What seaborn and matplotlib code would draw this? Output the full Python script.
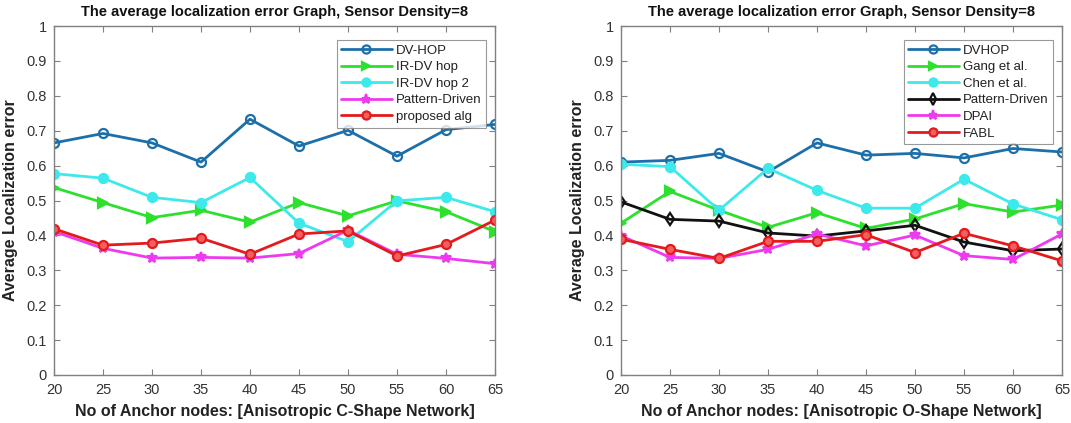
import matplotlib
matplotlib.use("Agg")
import matplotlib.pyplot as plt
import seaborn as sns
import pandas as pd

anchors = [20, 25, 30, 35, 40, 45, 50, 55, 60, 65]

# Left chart: Anisotropic C-Shape Network
c_dvhop = [0.665, 0.692, 0.665, 0.610, 0.733, 0.656, 0.701, 0.627, 0.703, 0.718]
c_irdv = [0.537, 0.494, 0.451, 0.472, 0.438, 0.494, 0.456, 0.499, 0.468, 0.411]
c_irdv2 = [0.577, 0.564, 0.509, 0.494, 0.566, 0.435, 0.382, 0.499, 0.509, 0.468]
c_pattern = [0.411, 0.363, 0.335, 0.337, 0.335, 0.348, 0.415, 0.346, 0.334, 0.319]
c_proposed = [0.419, 0.372, 0.378, 0.392, 0.346, 0.404, 0.413, 0.341, 0.374, 0.444]

# Right chart: Anisotropic O-Shape Network
o_dvhop = [0.610, 0.615, 0.635, 0.582, 0.665, 0.630, 0.635, 0.622, 0.649, 0.639]
o_gang = [0.435, 0.526, 0.472, 0.423, 0.465, 0.420, 0.447, 0.491, 0.467, 0.487]
o_chen = [0.604, 0.597, 0.472, 0.592, 0.529, 0.478, 0.478, 0.561, 0.490, 0.445]
o_pattern = [0.496, 0.446, 0.441, 0.407, 0.398, 0.413, 0.429, 0.381, 0.356, 0.361]
o_dpai = [0.399, 0.337, 0.334, 0.360, 0.404, 0.370, 0.401, 0.342, 0.331, 0.404]
o_fabl = [0.389, 0.360, 0.334, 0.383, 0.383, 0.402, 0.351, 0.406, 0.370, 0.327]

title = "The average localization error Graph, Sensor Density=8"
ylabel = "Average Localization error"
xlabel_left = "No of Anchor nodes: [Anisotropic C-Shape Network]"
xlabel_right = "No of Anchor nodes: [Anisotropic O-Shape Network]"
yticks = [0, 0.1, 0.2, 0.3, 0.4, 0.5, 0.6, 0.7, 0.8, 0.9, 1]
ytick_labels = ["0", "0.1", "0.2", "0.3", "0.4", "0.5", "0.6", "0.7", "0.8", "0.9", "1"]

BLUE = "#1d6fa9"
GREEN = "#2ee02e"
CYAN = "#3de9ea"
MAGENTA = "#ee3aee"
RED = "#e41a1c"
BLACK = "#111111"

sns.set_theme(style="white")
plt.rcParams["font.family"] = ["Liberation Sans", "DejaVu Sans"]

fig = plt.figure(figsize=(10.71, 4.23), dpi=100)
ax1 = fig.add_axes([54 / 1071, 1 - 375 / 423, (495 - 54) / 1071, (375 - 26) / 423])
ax2 = fig.add_axes([621 / 1071, 1 - 375 / 423, (1062 - 621) / 1071, (375 - 26) / 423])

left_series = [
    ("DV-HOP", c_dvhop, BLUE, "o", "none"),
    ("IR-DV hop", c_irdv, GREEN, ">", GREEN),
    ("IR-DV hop 2", c_irdv2, CYAN, "o", CYAN),
    ("Pattern-Driven", c_pattern, MAGENTA, "*", MAGENTA),
    ("proposed alg", c_proposed, RED, "o", "#f06060"),
]
right_series = [
    ("DVHOP", o_dvhop, BLUE, "o", "none"),
    ("Gang et al.", o_gang, GREEN, ">", GREEN),
    ("Chen et al.", o_chen, CYAN, "o", CYAN),
    ("Pattern-Driven", o_pattern, BLACK, "d", "none"),
    ("DPAI", o_dpai, MAGENTA, "*", MAGENTA),
    ("FABL", o_fabl, RED, "o", "#f06060"),
]


def draw(ax, series, xlabel):
    for name, vals, color, marker, mfc in series:
        df = pd.DataFrame({"x": anchors, "y": vals})
        sns.lineplot(data=df, x="x", y="y", ax=ax, color=color, marker=marker,
                     markersize=6.5 if marker != "*" else 7.5, linewidth=2,
                     markerfacecolor=mfc, markeredgecolor=color,
                     markeredgewidth=1.6, label=name)
    ax.set_xlim(20, 65)
    ax.set_ylim(0, 1)
    ax.set_xticks(anchors)
    ax.set_xticklabels([str(a) for a in anchors])
    ax.set_yticks(yticks)
    ax.set_yticklabels(ytick_labels)
    ax.tick_params(direction="in", length=4, width=0.8, colors="#808080",
                   labelcolor="#333333", labelsize=10.5, top=True, right=True,
                   bottom=True, left=True)
    ax.tick_params(axis="x", pad=6)
    ax.tick_params(axis="y", pad=5)
    for sp in ax.spines.values():
        sp.set_color("#808080")
        sp.set_linewidth(1.0)
    ax.set_title(title, fontsize=10.5, fontweight="bold", color="#111111", pad=7)
    ax.set_xlabel(xlabel, fontsize=11.5, fontweight="bold", color="#222222", labelpad=5)
    ax.set_ylabel(ylabel, fontsize=11.5, fontweight="bold", color="#222222", labelpad=6)
    leg = ax.legend(loc="upper right", bbox_to_anchor=(0.985, 0.968), fontsize=9.5,
                    frameon=True, fancybox=False, edgecolor="#808080",
                    handlelength=3.8, handletextpad=0.3, borderpad=0.35,
                    labelspacing=0.33, borderaxespad=0.2, markerscale=0.9)
    leg.get_frame().set_linewidth(0.8)
    for t in leg.get_texts():
        t.set_color("#222222")


draw(ax1, left_series, xlabel_left)
draw(ax2, right_series, xlabel_right)

fig.savefig("out.png", dpi=100)
